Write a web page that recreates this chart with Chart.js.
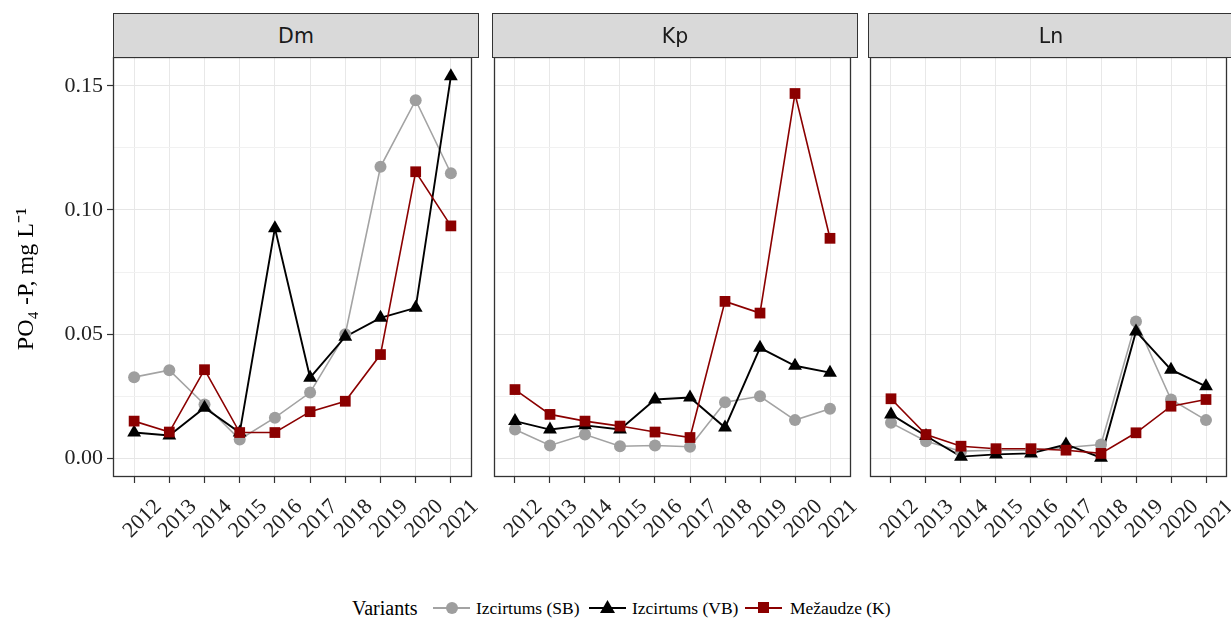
<!DOCTYPE html>
<html>
<head>
<meta charset="utf-8">
<script src="https://cdn.jsdelivr.net/npm/chart.js@4/dist/chart.umd.min.js"></script>
<style>
html,body{margin:0;padding:0;background:#fff;width:1231px;height:622px;overflow:hidden;}
#wrap{position:relative;width:1231px;height:622px;overflow:hidden;}
canvas{position:absolute;top:0;}
.strip{position:absolute;top:13px;height:45px;background:#d9d9d9;border:1.3px solid #333;box-sizing:border-box;
  font-family:"DejaVu Sans",sans-serif;font-size:20.5px;color:#1a1a1a;display:flex;align-items:center;justify-content:center;}
.lg{position:absolute;font-family:"Liberation Serif",serif;color:#000;white-space:nowrap;line-height:26px;top:595px;}
.key{position:absolute;top:595px;height:26px;width:37px;}
.key .ln{position:absolute;left:0;right:0;top:12px;height:1.6px;}
.key .mk{position:absolute;}
</style>
</head>
<body>
<div id="wrap">
  <canvas id="c1" width="480" height="560" style="left:0px"></canvas>
  <canvas id="c2" width="373" height="560" style="left:486px"></canvas>
  <canvas id="c3" width="373" height="560" style="left:862px"></canvas>
  <div class="strip" id="s1" style="left:113px;width:366px"></div>
  <div class="strip" id="s2" style="left:492px;width:366px"></div>
  <div class="strip" id="s3" style="left:868px;width:366px"></div>

  <div class="lg" id="lgTitle" style="left:352px;font-size:20px;"></div>
  <div class="key" style="left:433px"><div class="ln" style="background:#a3a3a3"></div>
    <div class="mk" style="left:12.5px;top:7px;width:12px;height:12px;border-radius:50%;background:#9e9e9e"></div></div>
  <div class="lg" id="lg1" style="left:476px;font-size:17.5px;"></div>
  <div class="key" style="left:589px"><div class="ln" style="background:#000"></div>
    <div class="mk" style="left:11px;top:5px;width:15px;height:13px;background:#000;clip-path:polygon(50% 0,100% 100%,0 100%)"></div></div>
  <div class="lg" id="lg2" style="left:632px;font-size:17.5px;"></div>
  <div class="key" style="left:745px"><div class="ln" style="background:#8b0000"></div>
    <div class="mk" style="left:13px;top:7px;width:11px;height:11px;background:#8b0000"></div></div>
  <div class="lg" id="lg3" style="left:790px;font-size:17.5px;"></div>
</div>
<script>
// ---- data ----
const years = [2012, 2013, 2014, 2015, 2016, 2017, 2018, 2019, 2020, 2021];
const sites = ['Dm', 'Kp', 'Ln'];
const legendTitle = 'Variants';
const variantNames = ['Izcirtums (SB)', 'Izcirtums (VB)', 'Mežaudze (K)'];
const yTitle = 'PO\u2084 -P, mg L\u207B\u00B9';
const yTicks = [0, 0.025, 0.05, 0.075, 0.10, 0.125, 0.15];
const yTickLabels = ['0.00', '', '0.05', '', '0.10', '', '0.15'];

const dmSB = [0.0327, 0.0355, 0.0217, 0.0076, 0.0164, 0.0265, 0.0500, 0.1174, 0.1442, 0.1148];
const dmVB = [0.0104, 0.0092, 0.0204, 0.0104, 0.0927, 0.0325, 0.0490, 0.0566, 0.0606, 0.1538];
const dmK  = [0.0150, 0.0106, 0.0357, 0.0104, 0.0104, 0.0188, 0.0230, 0.0418, 0.1154, 0.0936];

const kpSB = [0.0116, 0.0052, 0.0096, 0.0049, 0.0052, 0.0047, 0.0226, 0.0250, 0.0154, 0.0200];
const kpVB = [0.0150, 0.0116, 0.0133, 0.0116, 0.0237, 0.0245, 0.0124, 0.0445, 0.0373, 0.0345];
const kpK  = [0.0277, 0.0177, 0.0150, 0.0130, 0.0106, 0.0084, 0.0632, 0.0585, 0.1469, 0.0886];

const lnSB = [0.0143, 0.0069, 0.0029, 0.0033, 0.0033, 0.0044, 0.0056, 0.0551, 0.0237, 0.0154];
const lnVB = [0.0177, 0.0090, 0.0007, 0.0016, 0.0020, 0.0056, 0.0003, 0.0511, 0.0357, 0.0290];
const lnK  = [0.0240, 0.0096, 0.0049, 0.0039, 0.0039, 0.0033, 0.0020, 0.0103, 0.0210, 0.0237];

// ---- styling ----
const COL_SB = '#9e9e9e', LINE_SB = '#a3a3a3';
const COL_VB = '#000000';
const COL_K = '#8b0000';
const SERIF = '"Liberation Serif", serif';

document.getElementById('s1').textContent = sites[0];
document.getElementById('s2').textContent = sites[1];
document.getElementById('s3').textContent = sites[2];
document.getElementById('lgTitle').textContent = legendTitle;
document.getElementById('lg1').textContent = variantNames[0];
document.getElementById('lg2').textContent = variantNames[1];
document.getElementById('lg3').textContent = variantNames[2];

const framePlugin = {
  id: 'frame',
  afterDraw(chart) {
    const {ctx, chartArea: a} = chart;
    ctx.save();
    ctx.strokeStyle = '#333';
    ctx.lineWidth = 1.3;
    ctx.strokeRect(a.left + 0.5, a.top + 0.5, a.right - a.left - 1, a.bottom - a.top - 1);
    ctx.restore();
  }
};

function pts(vals) { return years.map((y, i) => ({x: y, y: vals[i]})); }

function lineDs(vals, color, width, order) {
  return {data: pts(vals), showLine: true, borderColor: color, borderWidth: width,
          pointRadius: 0, pointHoverRadius: 0, fill: false, tension: 0, order: order};
}
function pointDs(vals, color, style, r, order) {
  return {data: pts(vals), showLine: false, pointStyle: style, pointRadius: r, pointHoverRadius: r,
          backgroundColor: color, borderColor: color, pointBorderWidth: 0, order: order};
}

function makePanel(id, sb, vb, k, showY, padLeft) {
  return new Chart(document.getElementById(id), {
    type: 'scatter',
    data: {
      datasets: [
        lineDs(sb, LINE_SB, 1.6, 12),
        lineDs(vb, COL_VB, 1.9, 11),
        lineDs(k, COL_K, 1.6, 10),
        pointDs(sb, COL_SB, 'circle', 6, 3),
        pointDs(vb, COL_VB, 'triangle', 8, 2),
        pointDs(k, COL_K, 'rect', 7.6, 1)
      ]
    },
    options: {
      responsive: false, animation: false, devicePixelRatio: 1,
      layout: {padding: {top: 57, left: padLeft, right: 2, bottom: 0}},
      plugins: {legend: {display: false}, tooltip: {enabled: false}},
      events: [],
      scales: {
        x: {
          type: 'linear', min: 2011.4, max: 2021.6,
          afterBuildTicks: s => { s.ticks = years.map(v => ({value: v})); },
          afterFit: s => { s.height = 83; s.paddingLeft = 0; s.paddingRight = 0; },
          ticks: {autoSkip: false, minRotation: 45, maxRotation: 45, padding: 11, labelOffset: 24,
                  callback: v => String(v), color: '#222', font: {family: SERIF, size: 22}},
          grid: {color: '#e8e8e8', lineWidth: 1, tickColor: '#333', tickLength: 6, tickWidth: 1.2},
          border: {display: false}
        },
        y: {
          type: 'linear', min: -0.0075, max: 0.1616,
          afterBuildTicks: s => { s.ticks = yTicks.map(v => ({value: v})); },
          afterFit: s => { s.width = showY ? 113 : 0; s.paddingTop = 0; s.paddingBottom = 0; },
          ticks: {display: showY, padding: 4, color: '#222', font: {family: SERIF, size: 22},
                  callback: (v, i) => yTickLabels[i]},
          grid: {drawTicks: showY, tickLength: 6, tickWidth: 1.2,
                 color: c => (c.index % 2 ? '#f1f1f1' : '#e6e6e6'),
                 tickColor: c => (c.index % 2 ? 'rgba(0,0,0,0)' : '#333')},
          border: {display: false},
          title: {display: showY, text: yTitle + '\u00A0\u00A0\u00A0\u00A0', color: '#000',
                  font: {family: SERIF, size: 24}, padding: {top: 12, bottom: 0}}
        }
      }
    },
    plugins: [framePlugin]
  });
}

makePanel('c1', dmSB, dmVB, dmK, true, 0);
makePanel('c2', kpSB, kpVB, kpK, false, 6);
makePanel('c3', lnSB, lnVB, lnK, false, 6);
</script>
</body>
</html>
